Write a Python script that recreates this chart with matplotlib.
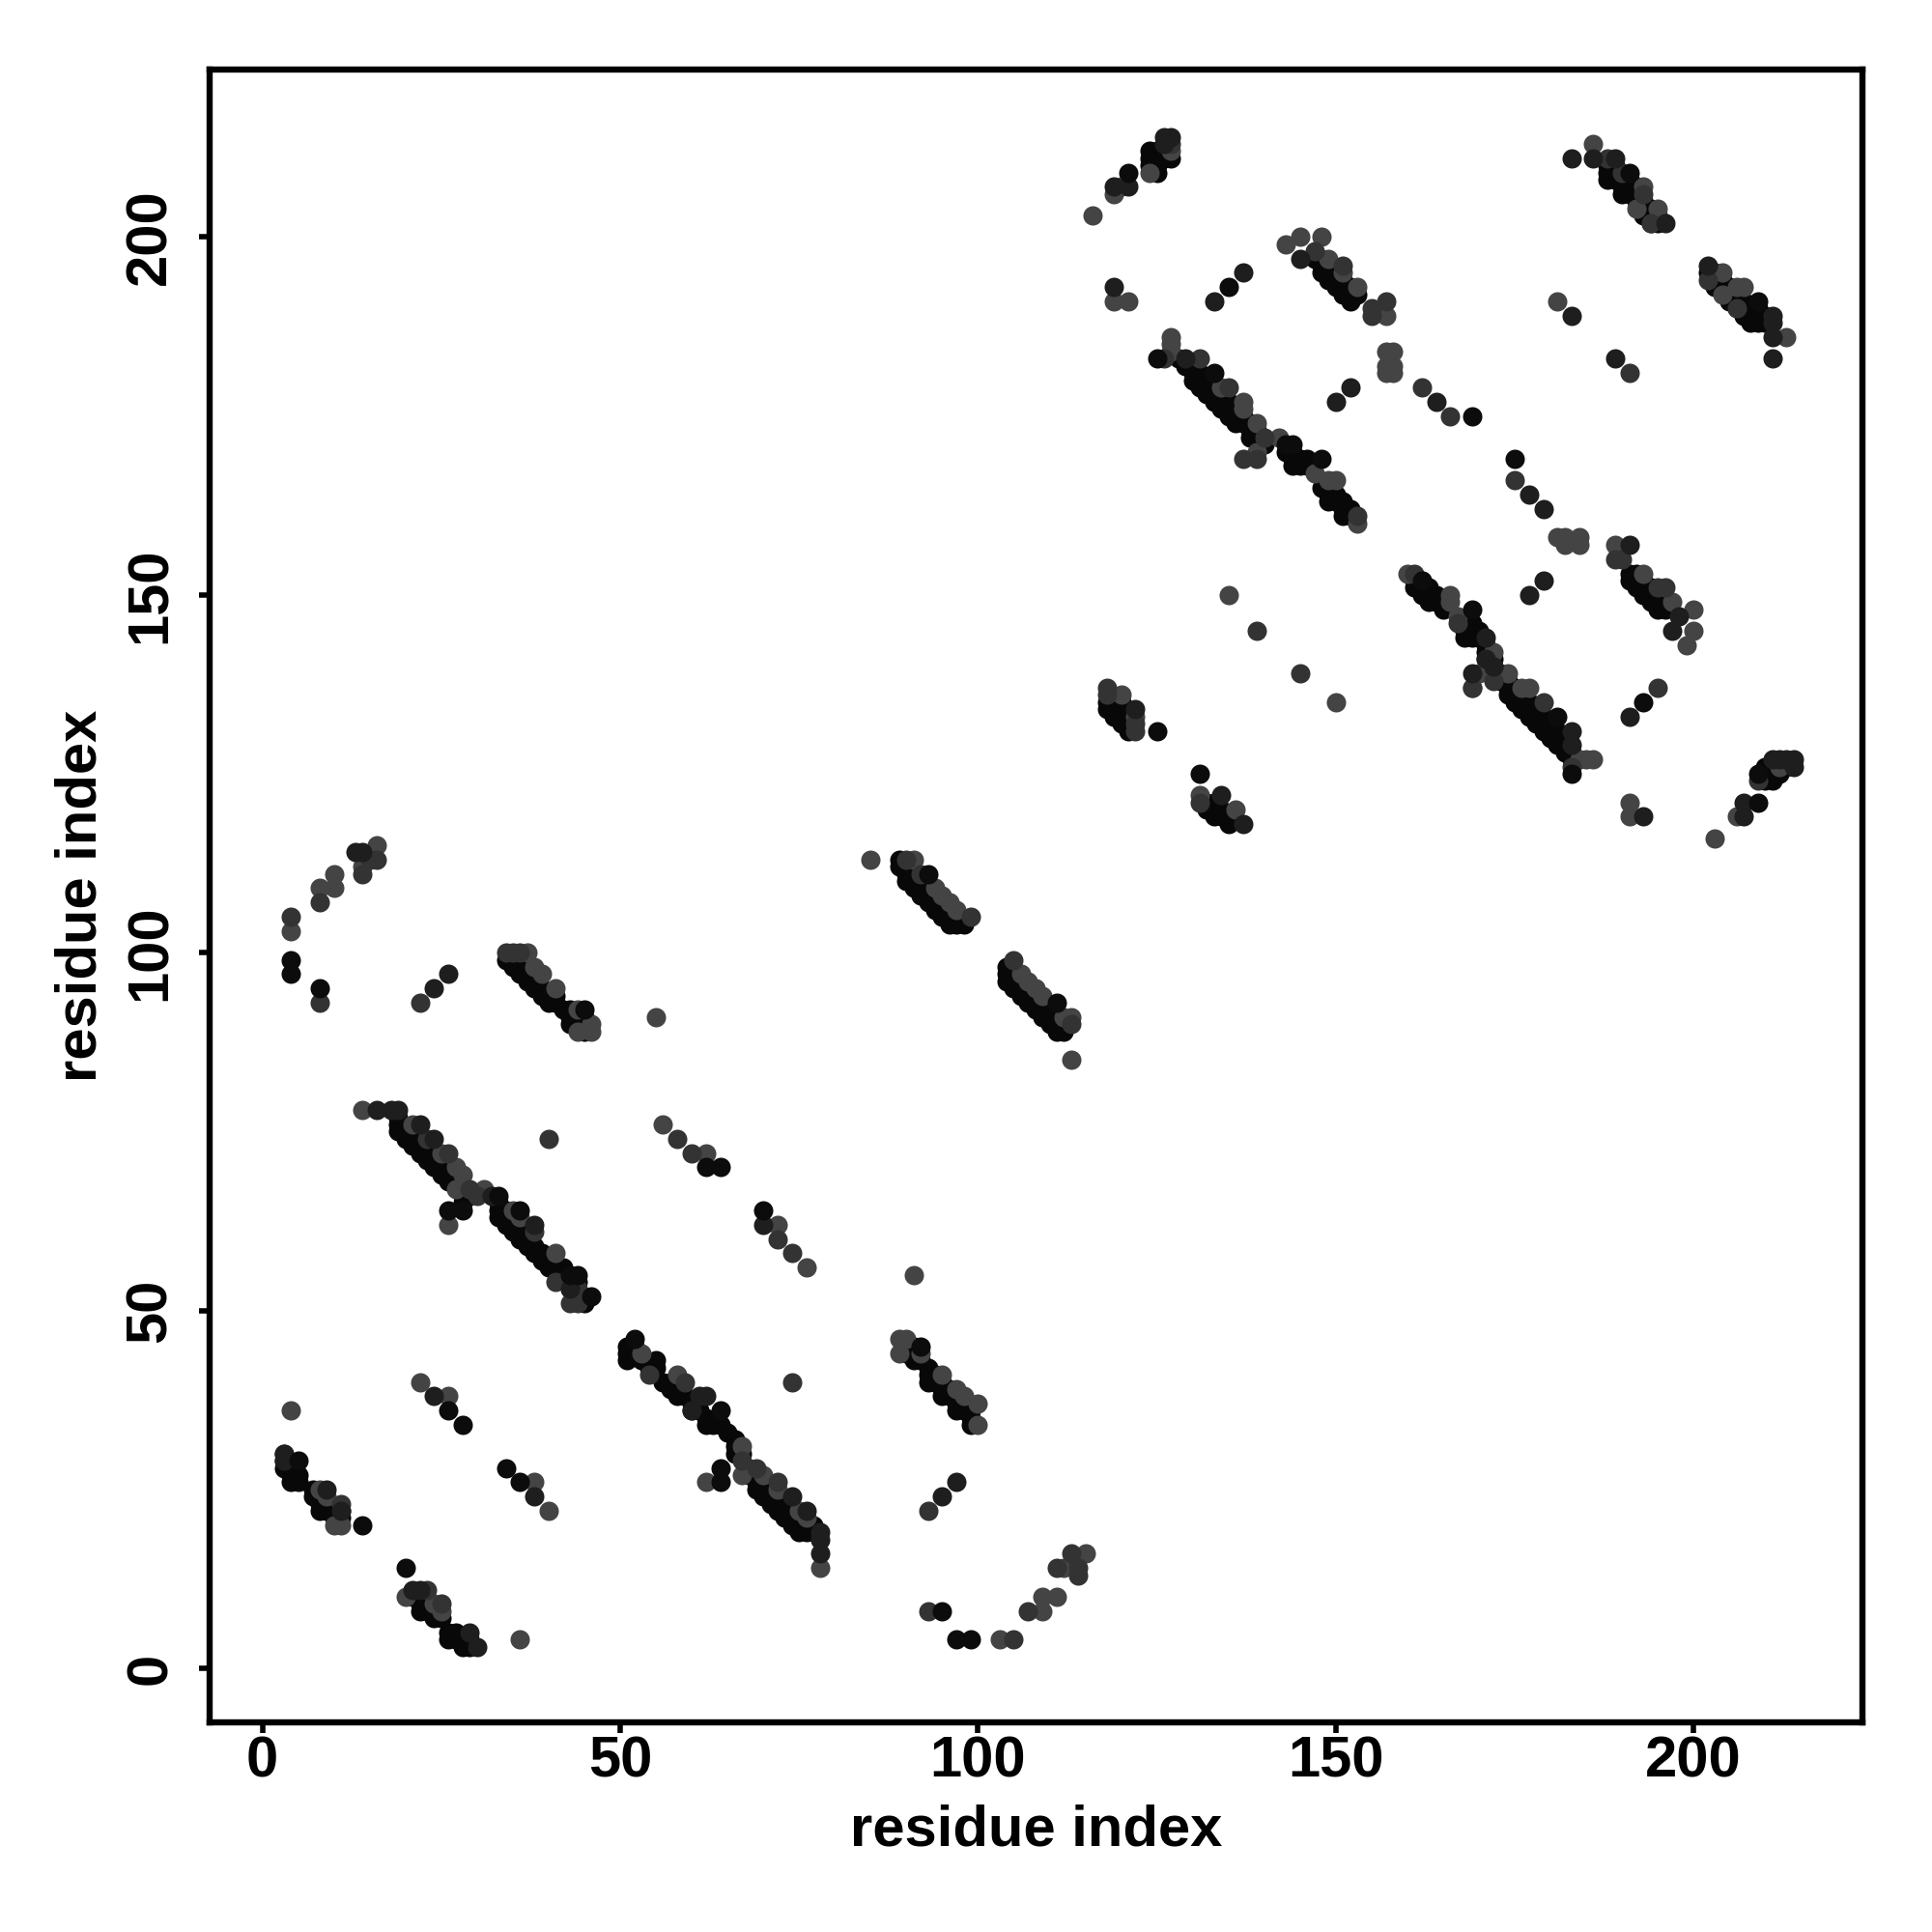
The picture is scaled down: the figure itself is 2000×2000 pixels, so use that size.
import matplotlib
matplotlib.use("Agg")
import matplotlib.pyplot as plt

plt.rcParams['font.family'] = ['Liberation Sans', 'DejaVu Sans']

# Contacts, one list per grey level.
contacts_base = [
 (3,30),(3,29),(3,28),(4,28),(4,27),(5,27),(4,26),(5,26),(7,25),(7,24),(8,24),(8,23),(8,22),(9,23),(9,22),(10,22),(10,21),(11,22),(11,21),
 (21,10),(22,10),(22,9),(22,8),(23,9),(23,8),(24,8),(24,7),(25,7),(26,5),(26,4),(27,5),(27,4),(28,4),(28,3),(29,4),(29,3),
 (19,77),(19,76),(19,75),(20,75),(20,74),(21,74),(21,73),(22,73),(22,72),(23,72),(23,71),(24,71),(24,70),(25,70),(25,69),(26,69),(26,68),(27,68),(28,67),(28,66),(28,65),(29,66),
 (33,65),(33,64),(33,63),(34,64),(34,63),(34,62),(35,62),(35,61),(36,62),(36,61),(36,60),(37,60),(37,59),(38,59),(38,58),(39,58),(39,57),(40,57),(40,56),(41,56),(42,56),(42,55),(43,54),(43,53),(44,54),(44,52),(45,52),(45,51),
 (51,45),(51,44),(51,43),(52,45),(52,44),(53,43),(54,42),(55,43),(55,42),(56,40),(57,40),(57,39),(58,39),(58,38),(59,38),(60,37),(60,36),(61,36),(62,35),(62,34),(63,34),(64,34),(65,33),(66,32),(66,31),(66,30),(67,30),
 (68,28),(68,27),(69,27),(69,26),(69,25),(70,26),(70,25),(70,24),(71,24),(71,23),(72,23),(72,22),(73,22),(73,21),(74,21),(74,20),(75,20),(75,19),(76,20),(76,19),(77,20),(77,19),
 (90,45),(90,44),(91,45),(91,44),(91,43),(92,43),(93,42),(93,41),(93,40),(94,41),(94,40),(95,40),(95,39),(95,38),(96,39),(96,38),(97,37),(97,36),(98,37),(98,36),(99,36),(99,35),(99,34),
 (34,99),(35,99),(35,98),(36,98),(36,97),(37,97),(37,96),(38,96),(38,95),(39,95),(39,94),(40,94),(40,93),(41,94),(41,93),(42,92),(43,92),(43,91),(43,90),(44,91),(44,90),(45,91),(45,90),(45,89),
 (89,113),(89,112),(90,112),(90,111),(90,110),(91,111),(91,110),(91,109),(92,110),(92,109),(92,108),(93,109),(93,108),(93,107),(94,108),(94,107),(94,106),(95,107),(95,106),(95,105),(96,106),(96,105),(96,104),(97,105),(97,104),(98,104),
 (104,98),(104,97),(104,96),(105,97),(105,96),(105,95),(106,96),(106,95),(106,94),(107,95),(107,94),(107,93),(108,94),(108,93),(108,92),(109,93),(109,92),(109,91),(110,92),(110,91),(110,90),(111,91),(111,90),(111,89),(112,90),(112,89),
 (118,135),(118,134),(119,135),(119,134),(119,133),(120,135),(120,133),(120,132),(121,133),(121,132),(121,131),
 (132,121),(132,120),(133,121),(133,120),(133,119),(134,120),(134,119),(135,119),(135,118),
 (124,212),(124,211),(124,210),(125,212),(125,211),(125,210),(125,209),(126,212),(126,211),(127,211),
 (147,197),(148,197),(148,196),(148,195),(149,196),(149,195),(149,194),(150,195),(150,194),(150,193),(151,194),(151,193),(151,192),(152,193),(152,192),(152,191),(153,192),
 (128,183),(129,182),(130,182),(130,181),(130,180),(131,181),(131,180),(131,179),(132,180),(132,179),(132,178),(133,179),(133,178),(133,177),(134,178),(134,177),(134,176),(135,177),(135,176),(135,175),(136,176),(136,175),(136,174),(137,175),(137,174),(138,174),(138,173),(138,172),(139,173),(139,172),(140,171),
 (143,170),(144,170),(144,169),(144,168),(145,169),(145,168),(146,169),(146,168),(148,165),(149,165),(149,164),(149,163),(150,164),(150,163),(151,163),(151,162),(151,161),(152,162),(152,161),
 (161,152),(161,151),(162,152),(162,151),(162,150),(163,151),(163,150),(163,149),(164,150),(164,149),(165,149),(165,148),(168,146),(168,145),(168,144),(169,146),(169,145),(169,144),(170,145),(170,144),(171,143),(171,142),(171,141),(172,141),(173,139),(173,138),
 (174,138),(174,137),(174,136),(175,137),(175,136),(175,135),(176,136),(176,135),(176,134),(177,135),(177,134),(177,133),(178,134),(178,133),(178,132),(179,133),(179,132),(179,131),(180,132),(180,131),(180,130),(181,131),(181,130),(181,129),(182,130),(182,129),(182,128),(183,128),(183,127),
 (188,210),(188,209),(188,208),(189,210),(189,209),(189,208),(190,208),(190,207),(190,206),(191,208),(191,207),(191,206),(192,207),(192,206),(192,205),(193,205),(193,204),(193,203),(194,204),(194,203),(194,202),(195,203),(195,202),
 (202,195),(203,195),(203,194),(203,193),(204,194),(204,193),(205,193),(205,192),(205,191),(206,192),(206,191),(206,190),(207,191),(207,190),(207,189),(208,190),(208,189),(208,188),(209,190),(209,189),(209,188),(210,189),(210,188),
 (191,153),(191,152),(192,153),(192,152),(192,151),(193,152),(193,151),(193,150),(194,151),(194,150),(194,149),(195,150),(195,149),(195,148),(196,149),(196,148),
 (210,126),(210,125),(210,124),(211,126),(211,125),(211,124),(212,125),(213,126),
]
contacts_grey44 = [
 (4,36),(8,25),(9,24),(10,20),(11,20),(22,40),(26,38),(38,26),(40,22),(36,4),(20,10),(24,9),(25,8),
 (14,78),(21,76),(25,72),(27,70),(28,69),(27,67),(31,67),(35,64),(36,63),(41,58),(26,62),(56,76),(62,72),(72,62),(76,56),
 (53,44),(58,41),(67,31),(67,27),(62,26),(70,27),(72,25),(75,22),(76,21),(78,14),(89,46),(89,44),(90,46),(92,44),(95,41),(97,39),(98,38),(100,37),(100,34),(91,55),
 (103,4),(109,8),(109,10),(111,10),(112,14),(115,16),(4,103),(8,109),(10,111),(10,109),(16,115),(14,112),
 (37,100),(38,98),(39,97),(41,95),(44,92),(44,89),(46,90),(46,89),(55,91),(85,113),(91,113),(94,109),(95,108),(96,107),(97,106),
 (106,97),(107,96),(108,95),(109,94),(112,91),(113,91),(113,85),(116,203),(119,206),(120,207),(124,209),(127,212),(127,186),(127,185),(127,184),
 (143,199),(145,200),(148,200),(149,197),(151,195),(153,193),(157,189),(119,191),(121,191),
 (157,184),(158,184),(157,182),(158,182),(157,181),(158,181),(134,179),(137,177),(137,176),(139,174),(142,172),(139,170),(147,167),(149,166),(150,166),(153,160),
 (181,158),(182,158),(182,157),(184,158),(184,157),(135,150),(160,153),(166,150),(166,149),(167,147),(172,142),(169,137),(170,139),(174,139),(176,137),(177,137),(184,127),(185,127),(186,127),
 (189,157),(193,153),(197,149),(200,148),(200,145),(199,143),(191,121),(191,119),(203,116),(206,119),(212,126),
 (120,136),(122,133),(136,120),(131,122),(150,135),(186,213),(193,207),(192,204),(195,204),(204,195),(204,192),(207,193),(206,193),(213,186),(181,191),
]
contacts_grey33 = [
 (23,11),(25,9),(11,23),(23,74),(26,72),(29,67),(30,66),(40,74),(41,54),(58,74),(60,72),(72,60),(74,58),(38,61),
 (44,53),(43,51),(44,51),(59,40),(54,41),(67,29),(69,28),(72,26),(93,22),(93,8),(105,4),(107,8),(111,14),(113,16),(114,14),(114,13),(74,40),
 (4,105),(8,107),(8,93),(15,113),(16,113),(14,111),(22,93),(34,100),(35,100),(36,100),(92,111),(90,113),(99,105),(105,99),(113,90),
 (127,213),(131,183),(126,183),(147,198),(151,196),(155,190),(155,189),(157,191),(135,179),(140,172),(153,161),(139,145),(162,179),(166,175),(175,166),
 (118,137),(118,136),(122,132),(122,131),(131,121),(139,169),(137,169),(161,153),(167,146),(172,140),(172,138),(169,137),(179,135),(183,126),(145,139),(195,137),
 (189,155),(190,155),(195,151),(196,151),(190,209),(188,211),(193,206),(194,202),(202,194),(206,190),(209,124),(191,181),
]
contacts_grey22 = [
 (16,78),(18,78),(19,78),(22,76),(24,74),(32,66),(38,62),(21,11),(22,11),(29,5),(30,3),(24,38),(38,24),
 (61,38),(62,38),(74,24),(76,22),(78,19),(78,18),(78,16),(97,26),(95,24),(13,114),(14,114),(26,97),(24,95),(43,53),
 (3,30),(3,29),(9,25),(11,22),(70,62),(60,36),(119,207),(121,207),(119,193),(133,191),(137,195),(126,214),(127,214),(126,213),(129,183),
 (145,197),(150,177),(152,179),(164,177),(177,164),(179,162),(179,152),(177,150),(171,144),(171,141),(172,140),(169,139),(183,131),(183,129),(191,133),(191,157),(193,119),(207,121),(207,119),(197,145),(198,147),(122,134),(134,122),(137,118),(183,211),(186,211),(189,211),(211,189),(211,188),(211,186),(211,183),(183,189),(189,183),(196,202),(202,196),(212,127),(214,127),(214,126),(213,127),(211,127),
]
contacts_black = [
 (5,29),(14,20),(20,14),(34,28),(36,26),(26,36),(28,34),(26,64),(28,64),(33,66),(36,64),(43,55),(44,55),(45,92),(46,52),(62,70),(64,70),(70,64),(64,28),(64,26),
 (52,46),(64,36),(92,45),(95,8),(97,4),(99,4),(93,111),(111,93),(4,99),(4,97),(8,95),(121,209),(125,131),(131,125),(135,193),(133,181),(125,183),
 (169,175),(175,169),(148,169),(169,148),(144,171),(143,171),(181,133),(193,135),(183,125),(191,209),(209,191),(209,121),(209,125),(162,152),
]

x_ticks = [0, 50, 100, 150, 200]
y_ticks = [0, 50, 100, 150, 200]
axis_label = "residue index"

layers = [
    (contacts_base, "#080808"),
    (contacts_grey44, "#444444"),
    (contacts_grey33, "#333333"),
    (contacts_grey22, "#1e1e1e"),
    (contacts_black, "#0c0c0c"),
]

fig = plt.figure(figsize=(10, 10), dpi=200)
ax = fig.add_axes([0.1085, 0.1085, 0.8555, 0.8555])

for pts, col in layers:
    xs, ys = zip(*pts)
    ax.scatter(xs, ys, s=52, c=col, linewidths=0, zorder=3)

ax.set_xlim(-7.38, 223.6)
ax.set_ylim(-7.56, 223.4)
ax.set_xticks(x_ticks)
ax.set_yticks(y_ticks)
for s in ax.spines.values():
    s.set_linewidth(2.3)
ax.tick_params(axis='both', length=4, width=2, labelsize=21.5)
ax.tick_params(axis='x', pad=1)
ax.tick_params(axis='y', pad=8)
for t in ax.get_xticklabels() + ax.get_yticklabels():
    t.set_fontweight('bold')
for t in ax.get_yticklabels():
    t.set_rotation(90)
    t.set_va('center')
ax.set_xlabel(axis_label, fontsize=21.5, fontweight='bold', labelpad=5.5)
ax.set_ylabel(axis_label, fontsize=21.5, fontweight='bold', labelpad=6)
fig.savefig("out.png", dpi=200, facecolor="white")
